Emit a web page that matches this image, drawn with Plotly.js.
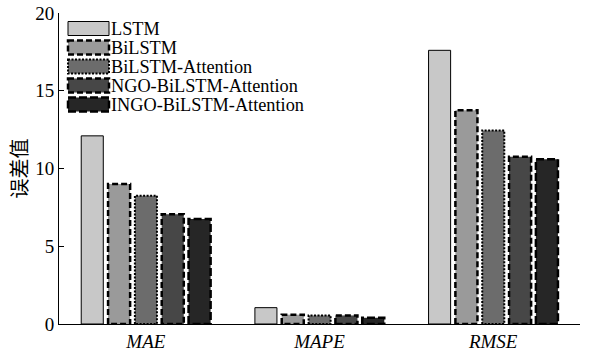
<!DOCTYPE html>
<html><head><meta charset="utf-8">
<script src="https://cdn.plot.ly/plotly-3.0.1.min.js"></script>
<style>body{margin:0;background:#fff}#chart{width:589px;height:353px}</style>
</head><body><div id="chart"></div>
<script>
const categories = ["MAE", "MAPE", "RMSE"];
const seriesNames = ["LSTM", "BiLSTM", "BiLSTM-Attention", "NGO-BiLSTM-Attention", "INGO-BiLSTM-Attention"];
const lstm = [12.1, 1.05, 17.6];
const bilstm = [9.0, 0.6, 13.75];
const bilstmAtt = [8.25, 0.55, 12.45];
const ngo = [7.05, 0.55, 10.75];
const ingo = [6.75, 0.4, 10.6];
const yTicks = [0, 5, 10, 15, 20];

const seriesValues = [lstm, bilstm, bilstmAtt, ngo, ingo];
const fills = ["#c8c8c8", "#9a9a9a", "#6c6c6c", "#474747", "#262626"];
const dashes = ["solid", "6px,3px", "2px,1.5px", "6px,3px", "8px,3px"];
const lineW = [1, 2.5, 2, 2.5, 2.5];

const barW = 0.127, step = 0.1545, first = -0.372;
const traces = [];
const xs = categories.map((c, i) => i);
seriesValues.forEach((vals, s) => {
  const off = first + s * step;
  traces.push({
    type: "bar", x: xs, y: vals, name: seriesNames[s],
    offset: off, width: barW,
    marker: {color: fills[s], line: {width: 0}},
    showlegend: false, hoverinfo: "y"
  });
});
seriesValues.forEach((vals, s) => {
  const off = first + s * step;
  const ox = [], oy = [];
  vals.forEach((v, i) => {
    const l = i + off, r = i + off + barW;
    ox.push(l, l, r, r, l, null);
    oy.push(0, v, v, 0, 0, null);
  });
  traces.push({
    type: "scatter", mode: "lines", x: ox, y: oy,
    line: {color: "#000", width: lineW[s], dash: dashes[s]},
    showlegend: false, hoverinfo: "skip"
  });
});

// custom legend (paper coords)
const L = 59, W = 521, B = 324, H = 311;
const px = v => (v - L) / W, py = v => (B - v) / H;
const shapes = [], annotations = [];
const rowY = [28.5, 47.5, 66.5, 85.5, 104.5];
const serif = "Liberation Serif, Times New Roman, serif";
seriesNames.forEach((n, s) => {
  const cy = rowY[s];
  shapes.push({type: "rect", xref: "paper", yref: "paper",
    x0: px(68), x1: px(109), y0: py(cy - 7), y1: py(cy + 7),
    fillcolor: fills[s], line: {color: "#000", width: lineW[s], dash: dashes[s]}});
  annotations.push({xref: "paper", yref: "paper", x: px(110), y: py(cy), xanchor: "left", yanchor: "middle",
    text: n, showarrow: false, height: 17, borderpad: 0,
    font: {family: serif, size: 18.3, color: "#000"}});
});

const layout = {
  width: 589, height: 353,
  margin: {l: 59, r: 9, t: 13, b: 29},
  paper_bgcolor: "#fff", plot_bgcolor: "#fff",
  barmode: "overlay",
  showlegend: false,
  font: {family: serif, size: 19, color: "#000"},
  xaxis: {
    range: [-0.5, 2.5], tickvals: xs, ticktext: categories.map(c => "<i>" + c + "</i>"),
    showgrid: false, zeroline: false, showline: true, linecolor: "#000", linewidth: 1,
    ticks: "", tickfont: {size: 19}
  },
  yaxis: {
    range: [0, 20], tickvals: yTicks, showgrid: false, zeroline: false,
    showline: true, linecolor: "#000", linewidth: 1, ticks: "inside", ticklen: 5, tickcolor: "#000",
    tickfont: {size: 19},
    title: {text: "误差值", font: {family: "Noto Sans CJK SC", size: 20}, standoff: 2}
  },
  shapes: shapes, annotations: annotations
};
Plotly.newPlot("chart", traces, layout, {displayModeBar: false, staticPlot: true});
</script></body></html>
